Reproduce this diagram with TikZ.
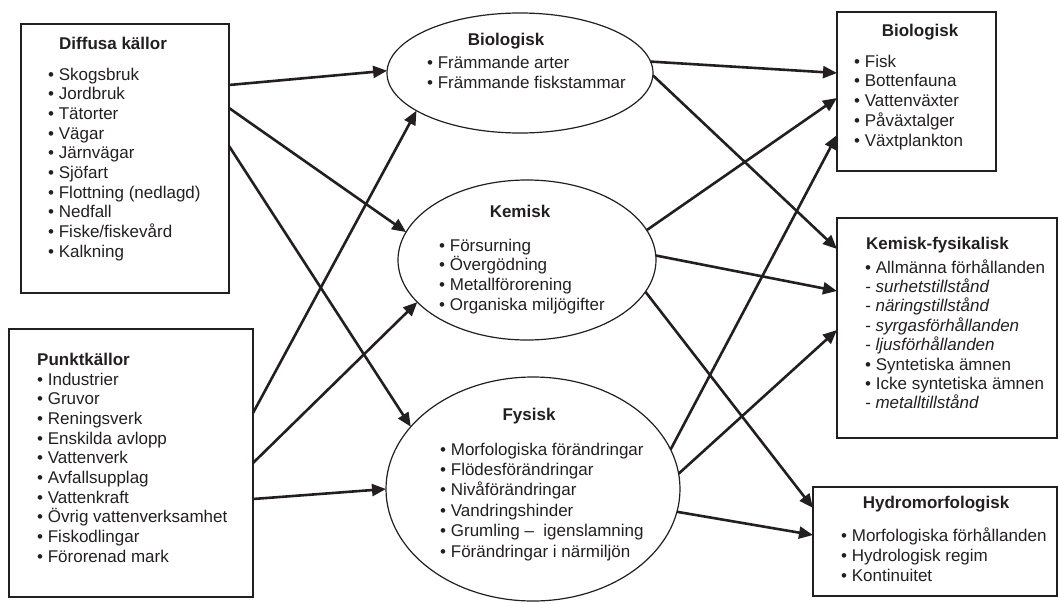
\documentclass[tikz,border=0pt]{standalone}
\usepackage{fontspec}
\setmainfont{Liberation Sans}
\usetikzlibrary{shapes.geometric,arrows.meta}
\definecolor{ink}{RGB}{35,31,32}
\begin{document}
\begin{tikzpicture}[x=1pt,y=-1pt,
  box/.style={draw=ink, line width=1.8pt, rectangle, inner sep=0pt, outer sep=0pt, anchor=north west},
  ell/.style={draw=ink, line width=1.2pt, ellipse, inner sep=0pt, outer sep=0pt},
  txt/.style={anchor=base west, inner sep=0pt, text=ink, font=\fontsize{17}{20}\selectfont},
  hd/.style={txt, font=\fontsize{17}{20}\selectfont\bfseries},
  conn/.style={draw=ink, line width=2.6pt, -{Triangle[length=14pt,width=12pt]}}]
\useasboundingbox (0,0) rectangle (1058,603);

% boxes
\node[box, minimum width=208pt, minimum height=269pt] (dif) at (21,24) {};
\node[box, minimum width=244pt, minimum height=268pt] (pun) at (9,329) {};
\node[box, minimum width=159pt, minimum height=159pt] (rbio) at (837,12) {};
\node[box, minimum width=220pt, minimum height=220pt] (kf) at (837,218) {};
\node[box, minimum width=244pt, minimum height=109pt] (hyd) at (813,487) {};

% ellipses
\node[ell, minimum width=266pt, minimum height=120pt] (bio) at (520,73) {};
\node[ell, minimum width=258pt, minimum height=160pt] (kem) at (527,260) {};
\node[ell, minimum width=294pt, minimum height=224pt] (fys) at (533,489) {};

% headers
\node[hd] (h1) at (59,49) {Diffusa källor};
\node[hd] (h2) at (37,365) {Punktkällor};
\node[hd, anchor=base] (h3) at (506,45) {Biologisk};
\node[hd, anchor=base] (h4) at (520,217) {Kemisk};
\node[hd, anchor=base] (h5) at (529,420) {Fysisk};
\node[hd, anchor=base] (h6) at (920,36) {Biologisk};
\node[hd] (h7) at (866,249) {Kemisk-fysikalisk};
\node[hd, anchor=base] (h8) at (936,508) {Hydromorfologisk};

% items
\foreach \t [count=\i from 0] in {Skogsbruk,Jordbruk,Tätorter,Vägar,Järnvägar,Sjöfart,Flottning (nedlagd),Nedfall,Fiske/fiskevård,Kalkning}
  \node[txt, name=d\i] at (48, 80+19.7*\i) {• \t};
\foreach \t [count=\i from 0] in {Industrier,Gruvor,Reningsverk,Enskilda avlopp,Vattenverk,Avfallsupplag,Vattenkraft,Övrig vattenverksamhet,Fiskodlingar,Förorenad mark}
  \node[txt, name=p\i] at (37, 385+19.7*\i) {• \t};
\foreach \t [count=\i from 0] in {Främmande arter,Främmande fiskstammar}
  \node[txt, name=b\i] at (427, 68+20*\i) {• \t};
\foreach \t [count=\i from 0] in {Försurning,Övergödning,Metallförorening,Organiska miljögifter}
  \node[txt, name=k\i] at (439, 251+19.7*\i) {• \t};
\foreach \t [count=\i from 0] in {Morfologiska förändringar,Flödesförändringar,Nivåförändringar,Vandringshinder,Grumling –\ \ igenslamning,Förändringar i närmiljön}
  \node[txt, name=f\i] at (440, 455+20.4*\i) {• \t};
\foreach \t [count=\i from 0] in {Fisk,Bottenfauna,Vattenväxter,Påväxtalger,Växtplankton}
  \node[txt, name=r\i] at (854, 67+19.8*\i) {• \t};
\foreach \t [count=\i from 0] in {• Allmänna förhållanden,\textit{- surhetstillstånd},\textit{- näringstillstånd},\textit{- syrgasförhållanden},\textit{- ljusförhållanden},• Syntetiska ämnen,• Icke syntetiska ämnen,\textit{- metalltillstånd}}
  \node[txt, name=q\i] at (865, 273+19.4*\i) {\t};
\foreach \t [count=\i from 0] in {Morfologiska förhållanden,Hydrologisk regim,Kontinuitet}
  \node[txt, name=y\i] at (841, 541+20*\i) {• \t};

% connectors left
\draw[conn] ([yshift=-61pt]dif.north east) -- (bio.179);
\draw[conn] ([yshift=-84pt]dif.north east) -- (kem.167);
\draw[conn] ([yshift=-122pt]dif.north east) -- (fys.153);
\draw[conn] ([yshift=-84pt]pun.north east) -- (bio.200);
\draw[conn] ([yshift=-134pt]pun.north east) -- (kem.201);
\draw[conn] ([yshift=-170pt]pun.north east) -- (fys.180);
% connectors right
\draw[conn] (bio.5) -- ([yshift=-61pt]rbio.north west);
\draw[conn] (bio.-1) -- ([yshift=-31pt]kf.north west);
\draw[conn] (kem.14) -- ([yshift=-86pt]rbio.north west);
\draw[conn] (kem.2) -- ([yshift=-73pt]kf.north west);
\draw[conn] (kem.-15) -- ([yshift=-21pt]hyd.north west);
\draw[conn] (fys.16) -- ([yshift=-123pt]rbio.north west);
\draw[conn] (fys.6) -- ([yshift=-112pt]kf.north west);
\draw[conn] (fys.-9) -- ([yshift=-48pt]hyd.north west);
\end{tikzpicture}
\end{document}
